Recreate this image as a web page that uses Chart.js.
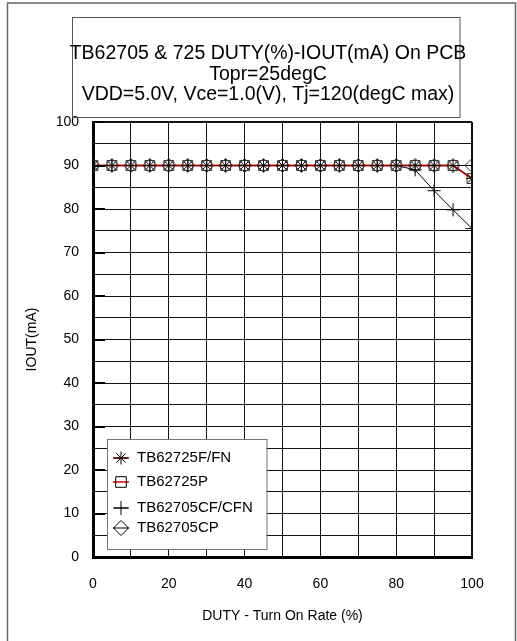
<!DOCTYPE html>
<html>
<head>
<meta charset="utf-8">
<title>TB62705 & 725 DUTY-IOUT</title>
<script src="https://cdn.jsdelivr.net/npm/chart.js@4.4.1/dist/chart.umd.min.js"></script>
<style>
    html, body { margin: 0; padding: 0; background: #fff; }
    #chartCanvas { display: block; }
</style>
</head>
<body>
<canvas id="chartCanvas" width="517" height="641"></canvas>
<script>
const titleLines = [
    "TB62705 & 725 DUTY(%)-IOUT(mA) On PCB",
    "Topr=25degC",
    "VDD=5.0V, Vce=1.0(V), Tj=120(degC max)"
];

// duty (%) sample points
const duty = [0, 5, 10, 15, 20, 25, 30, 35, 40, 45, 50, 55, 60, 65, 70, 75, 80, 85, 90, 95, 100];

// IOUT (mA) per device
const tb62725f = [90, 90, 90, 90, 90, 90, 90, 90, 90, 90, 90, 90, 90, 90, 90, 90, 90, 90, 90, 90, 87];
const tb62725p = [90, 90, 90, 90, 90, 90, 90, 90, 90, 90, 90, 90, 90, 90, 90, 90, 90, 90, 90, 90, 87];
const tb62705cf = [90, 90, 90, 90, 90, 90, 90, 90, 90, 90, 90, 90, 90, 90, 90, 90, 90, 89, 84.2, 79.8, 75.5];
const tb62705cp = [90, 90, 90, 90, 90, 90, 90, 90, 90, 90, 90, 90, 90, 90, 90, 90, 90, 90, 90, 90, 90];

const seriesLabels = ["TB62725F/FN", "TB62725P", "TB62705CF/CFN", "TB62705CP"];

const xTickLabels = [0, 20, 40, 60, 80, 100];
const yTickLabels = [0, 10, 20, 30, 40, 50, 60, 70, 80, 90, 100];

const fontName = '"Liberation Sans", Arial, sans-serif';

function toPoints(values) {
    return duty.map(function (d, i) {
        return { x: d, y: values[i] };
    });
}

// page frame + boxed title
const frameAndTitle = {
    id: "frameAndTitle",
    afterDraw(chart) {
        const ctx = chart.ctx;
        ctx.save();
        ctx.strokeStyle = "#666";
        ctx.lineWidth = 1.5;
        ctx.strokeRect(7.5, 3, 508, 660);

        ctx.strokeStyle = "#555";
        ctx.lineWidth = 1;
        ctx.strokeRect(72.5, 17.5, 387.5, 100);

        ctx.fillStyle = "#000";
        ctx.font = "19.5px " + fontName;
        ctx.textAlign = "center";
        ctx.textBaseline = "middle";
        titleLines.forEach(function (line, i) {
            ctx.fillText(line, 268, 54 + i * 20.3);
        });
        ctx.restore();
    }
};

// legend box sitting inside the plot, lower left
const legendRows = [19, 43, 69, 89];
const inPlotLegend = {
    id: "inPlotLegend",
    afterDraw(chart) {
        const ctx = chart.ctx;
        const area = chart.chartArea;
        const w = 159.5, h = 110;
        const left = Math.round(area.left + 14);
        const top = Math.round(area.bottom - 8 - h);
        ctx.save();
        ctx.fillStyle = "#fff";
        ctx.fillRect(left, top, w, h);
        ctx.strokeStyle = "#777";
        ctx.lineWidth = 1;
        ctx.strokeRect(left + 0.5, top + 0.5, w, h);

        chart.data.datasets.forEach(function (ds, i) {
            const y = top + legendRows[i];
            const cx = left + 14;
            ctx.strokeStyle = ds.borderColor;
            ctx.lineWidth = ds.borderWidth;
            ctx.beginPath();
            ctx.moveTo(cx - 8, y);
            ctx.lineTo(cx + 8, y);
            ctx.stroke();

            ctx.strokeStyle = "#000";
            ctx.fillStyle = "rgba(0,0,0,0)";
            ctx.lineWidth = 1;
            if (Chart.helpers && Chart.helpers.drawPoint) {
                Chart.helpers.drawPoint(ctx, {
                    pointStyle: ds.pointStyle,
                    radius: ds.pointRadius + 0.5,
                    borderWidth: 1,
                    rotation: 0
                }, cx, y);
            }

            ctx.fillStyle = "#000";
            ctx.font = "15px " + fontName;
            ctx.textAlign = "left";
            ctx.textBaseline = "middle";
            ctx.fillText(ds.label, left + 30, y);
        });
        ctx.restore();
    }
};

// short inward stubs at the labelled y ticks
const innerTicks = {
    id: "innerTicks",
    afterDatasetsDraw(chart) {
        const ctx = chart.ctx;
        const area = chart.chartArea;
        const yScale = chart.scales.y;
        ctx.save();
        ctx.strokeStyle = "#000";
        ctx.lineWidth = 2;
        yTickLabels.forEach(function (v) {
            const y = Math.round(yScale.getPixelForValue(v));
            ctx.beginPath();
            ctx.moveTo(area.left, y);
            ctx.lineTo(area.left + 12, y);
            ctx.stroke();
        });
        ctx.restore();
    }
};

const edgeWidth = function (c) {
    return c.tick && c.tick.value === 100 ? 2 : 1;
};

const ctx = document.getElementById("chartCanvas").getContext("2d");

const chart = new Chart(ctx, {
    type: "line",
    data: {
        datasets: [{
            label: seriesLabels[0],
            data: toPoints(tb62725f),
            borderColor: "#8b0000",
            borderWidth: 1.5,
            pointStyle: "star",
            pointRadius: 6,
            pointBorderColor: "#111",
            pointBackgroundColor: "rgba(0,0,0,0)",
            pointBorderWidth: 1
        }, {
            label: seriesLabels[1],
            data: toPoints(tb62725p),
            borderColor: "#e00000",
            borderWidth: 1.5,
            pointStyle: "rect",
            pointRadius: 7,
            pointBorderColor: "#333",
            pointBackgroundColor: "rgba(0,0,0,0)",
            pointBorderWidth: 1
        }, {
            label: seriesLabels[2],
            data: toPoints(tb62705cf),
            borderColor: "#000",
            borderWidth: 1,
            pointStyle: "cross",
            pointRadius: 6.5,
            pointBorderColor: "#000",
            pointBackgroundColor: "rgba(0,0,0,0)",
            pointBorderWidth: 1
        }, {
            label: seriesLabels[3],
            data: toPoints(tb62705cp),
            borderColor: "#000",
            borderWidth: 1,
            pointStyle: "rectRot",
            pointRadius: 7,
            pointBorderColor: "#333",
            pointBackgroundColor: "rgba(0,0,0,0)",
            pointBorderWidth: 1
        }]
    },
    options: {
        responsive: false,
        animation: false,
        layout: {
            padding: { top: 122, right: 45, bottom: 0, left: 0 }
        },
        plugins: {
            legend: { display: false },
            title: { display: false },
            tooltip: { enabled: false }
        },
        scales: {
            x: {
                type: "linear",
                min: 0,
                max: 100,
                afterFit: function (scale) { scale.height = 84; },
                ticks: {
                    stepSize: 10,
                    autoSkip: false,
                    maxRotation: 0,
                    padding: 19,
                    color: "#000",
                    font: { family: fontName, size: 14 },
                    callback: function (v) { return xTickLabels.includes(v) ? v : ""; }
                },
                grid: { color: "#111", lineWidth: edgeWidth, drawTicks: false },
                border: { display: true, color: "#000", width: 3 },
                title: {
                    display: true,
                    text: "DUTY - Turn On Rate (%)",
                    color: "#000",
                    font: { family: fontName, size: 14 },
                    padding: { top: 15, bottom: 16.6 }
                }
            },
            y: {
                min: 0,
                max: 100,
                afterFit: function (scale) { scale.width = 93; },
                ticks: {
                    stepSize: 5,
                    autoSkip: false,
                    padding: 14,
                    color: "#000",
                    font: { family: fontName, size: 14 },
                    callback: function (v) { return yTickLabels.includes(v) ? v : ""; }
                },
                grid: { color: "#111", lineWidth: edgeWidth, drawTicks: false },
                border: { display: true, color: "#000", width: 3 },
                title: {
                    display: true,
                    text: "IOUT(mA)",
                    color: "#000",
                    font: { family: fontName, size: 14 },
                    padding: { top: 23.3, bottom: 4 }
                }
            }
        }
    },
    plugins: [frameAndTitle, innerTicks, inPlotLegend]
});
</script>
</body>
</html>
